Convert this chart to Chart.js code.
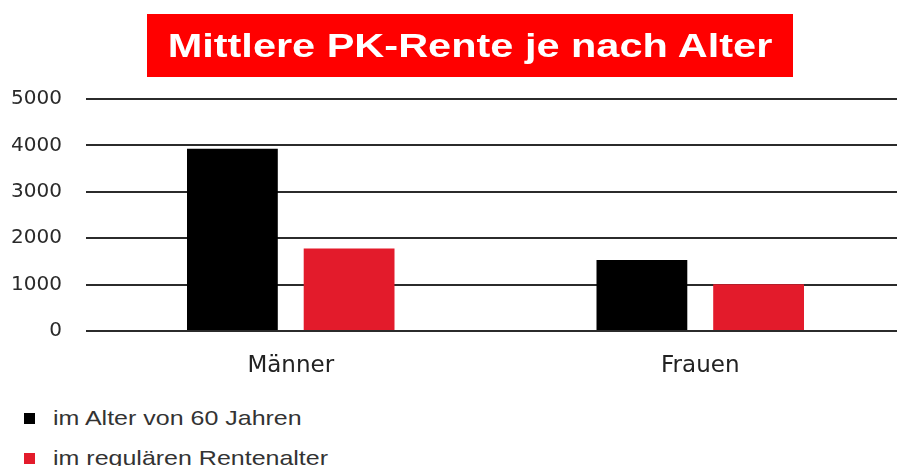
<!DOCTYPE html>
<html>
<head>
<meta charset="utf-8">
<script src="https://cdn.jsdelivr.net/npm/chart.js@4/dist/chart.umd.min.js"></script>
<style>
  html, body { margin: 0; padding: 0; background: #fff; overflow: hidden; width: 897px; height: 466px; }
  #wrap { position: absolute; left: 0; top: 0; width: 905px; height: 390px; }
  #title { position: absolute; left: 147px; top: 14px; width: 646px; height: 63px; background: #ff0000; }
  #title span { display: block; color: #fff; font: bold 34px "Liberation Sans", Arial, sans-serif; text-align: center;
                line-height: 63px; transform: scaleX(1.22); transform-origin: 50% 50%; }
  #legend { position: absolute; left: 24px; top: 398px; }
  .li { display: flex; align-items: center; height: 40px; }
  .sw { width: 11px; height: 11px; margin-right: 18px; flex: none; }
  .tx { font: 21px "Liberation Sans", Arial, sans-serif; color: #333; display: inline-block;
        transform: scaleX(1.19); transform-origin: 0 50%; white-space: nowrap; }
</style>
</head>
<body>
<div id="wrap"><canvas id="c"></canvas></div>
<div id="title"><span>Mittlere PK-Rente je nach Alter</span></div>
<div id="legend"></div>
<script>
const categories = ["Männer", "Frauen"];
const seriesNames = ["im Alter von 60 Jahren", "im regulären Rentenalter"];
const valuesAt60 = [3930, 1530];
const valuesRegular = [1780, 1010];
const yTicks = [0, 1000, 2000, 3000, 4000, 5000];
const colors = ["#000000", "#e31b2b"];

const chart = new Chart(document.getElementById('c'), {
  type: 'bar',
  data: {
    labels: categories,
    datasets: [
      { label: seriesNames[0], data: valuesAt60, backgroundColor: colors[0] },
      { label: seriesNames[1], data: valuesRegular, backgroundColor: colors[1] }
    ]
  },
  options: {
    responsive: true,
    maintainAspectRatio: false,
    animation: false,
    layout: { padding: { top: 99, left: 0, right: 0, bottom: 0 } },
    plugins: { legend: { display: false }, title: { display: false }, tooltip: { enabled: false } },
    datasets: { bar: { categoryPercentage: 0.57, barPercentage: 0.778 } },
    scales: {
      x: {
        grid: { display: false },
        border: { display: false },
        ticks: { color: '#222', font: { family: '"DejaVu Sans", sans-serif', size: 23 }, padding: 13 },
        afterFit: s => { s.height = 59; }
      },
      y: {
        min: 0, max: 5000,
        afterBuildTicks: s => { s.ticks = yTicks.map(v => ({ value: v })); },
        grid: { color: '#2b2b2b', lineWidth: 2, drawTicks: false },
        border: { display: false },
        ticks: { color: '#2a2a2a', font: { family: '"DejaVu Sans", sans-serif', size: 20 }, padding: 24,
                 callback: v => String(v) },
        afterFit: s => { s.width = 86; }
      }
    }
  }
});

const lg = document.getElementById('legend');
chart.data.datasets.forEach(ds => {
  const row = document.createElement('div');
  row.className = 'li';
  const sw = document.createElement('span');
  sw.className = 'sw';
  sw.style.background = ds.backgroundColor;
  const tx = document.createElement('span');
  tx.className = 'tx';
  tx.textContent = ds.label;
  row.appendChild(sw); row.appendChild(tx);
  lg.appendChild(row);
});
</script>
</body>
</html>
